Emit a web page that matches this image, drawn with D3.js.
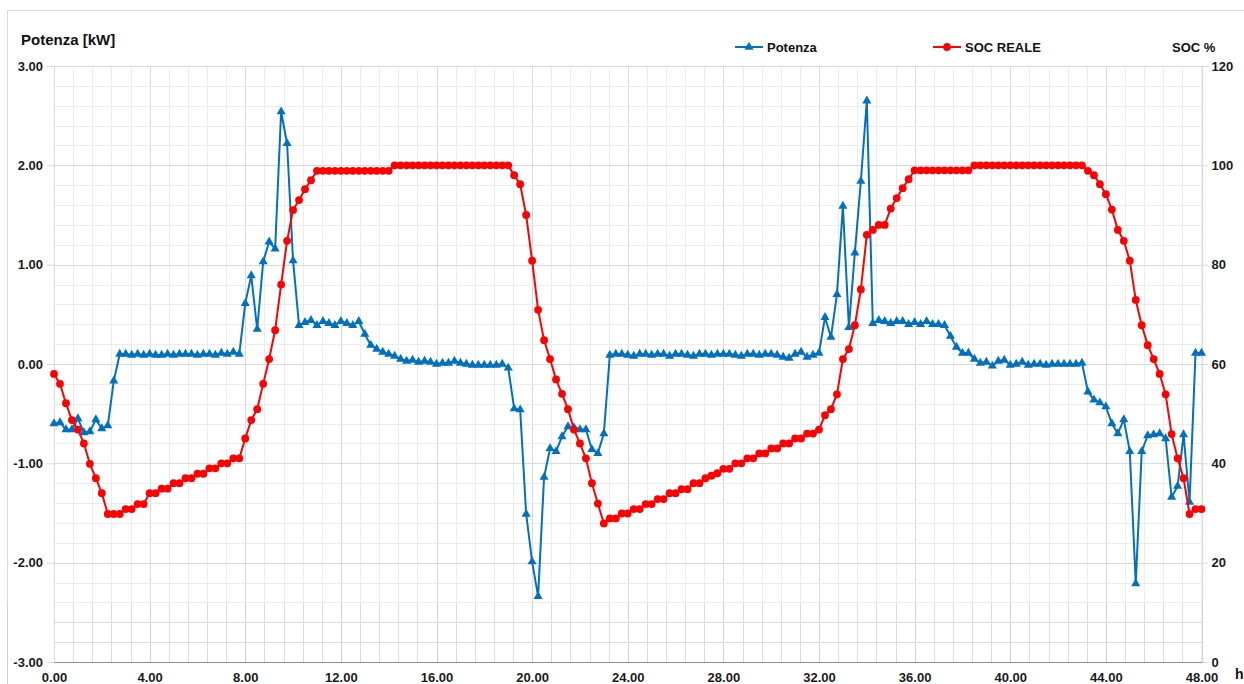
<!DOCTYPE html>
<html>
<head>
<meta charset="utf-8">
<script src="https://cdn.jsdelivr.net/npm/d3@7"></script>
<style>
  html, body { margin: 0; padding: 0; background: #ffffff; }
  svg { display: block; font-family: "Liberation Sans", Arial, sans-serif; }
</style>
</head>
<body>
<svg id="chart" width="1244" height="684"></svg>
<script>
// Sampling step of the measurements, in hours (0 … 48 h)
const STEP_H = 0.25;

// Battery power [kW], one value per sample
const potenza = [
  -0.60, -0.59, -0.66, -0.66, -0.55, -0.69, -0.68, -0.56, -0.65, -0.62,
  -0.17,  0.10,  0.10,  0.09,  0.10,  0.09,  0.10,  0.09,  0.09,  0.10,
   0.09,  0.10,  0.10,  0.10,  0.09,  0.10,  0.10,  0.09,  0.11,  0.10,
   0.12,  0.10,  0.61,  0.89,  0.35,  1.03,  1.23,  1.16,  2.54,  2.22,
   1.04,  0.39,  0.42,  0.44,  0.39,  0.43,  0.41,  0.39,  0.43,  0.41,
   0.39,  0.43,  0.30,  0.19,  0.15,  0.12,  0.10,  0.08,  0.05,  0.03,
   0.04,  0.02,  0.03,  0.02,  0.00,  0.01,  0.01,  0.03,  0.01,  0.00,
  -0.01, -0.01, -0.01, -0.01, -0.01,  0.00, -0.04, -0.45, -0.46, -1.51,
  -1.99, -2.34, -1.14, -0.85, -0.88, -0.73, -0.63, -0.64, -0.66, -0.66,
  -0.86, -0.90, -0.70,  0.09,  0.10,  0.10,  0.09,  0.08,  0.10,  0.10,
   0.09,  0.10,  0.10,  0.08,  0.10,  0.10,  0.09,  0.08,  0.10,  0.10,
   0.09,  0.10,  0.10,  0.10,  0.09,  0.08,  0.10,  0.10,  0.09,  0.10,
   0.10,  0.09,  0.07,  0.06,  0.10,  0.12,  0.07,  0.09,  0.11,  0.47,
   0.27,  0.70,  1.59,  0.37,  1.12,  1.84,  2.65,  0.41,  0.44,  0.43,
   0.41,  0.43,  0.43,  0.40,  0.42,  0.40,  0.43,  0.40,  0.40,  0.39,
   0.28,  0.17,  0.11,  0.11,  0.05,  0.01,  0.02, -0.02,  0.03,  0.04,
  -0.01,  0.00,  0.02, -0.01,  0.00,  0.00, -0.01,  0.00,  0.00,  0.00,
   0.00,  0.00,  0.01, -0.28, -0.36, -0.39, -0.43, -0.60, -0.70, -0.56,
  -0.88, -2.21, -0.88, -0.72, -0.71, -0.70, -0.75, -1.34, -1.23, -0.71,
  -1.39,  0.11,  0.11
];

// Real state of charge [%], one value per sample
const socReale = [
  58.0, 56.0, 52.1, 48.7, 46.8, 44.0, 39.9, 37.0, 34.0, 29.8,
  29.8, 29.8, 30.8, 30.8, 31.8, 31.8, 34.0, 34.0, 34.9, 34.9,
  36.0, 36.0, 37.0, 37.0, 37.9, 37.9, 39.0, 39.0, 40.0, 40.0,
  41.0, 41.0, 45.0, 48.7, 50.9, 56.0, 61.0, 66.8, 76.0, 84.8,
  91.0, 93.0, 95.2, 97.0, 98.9, 98.9, 98.9, 98.9, 98.9, 98.9,
  98.9, 98.9, 98.9, 98.9, 98.9, 98.9, 98.9, 100, 100, 100,
  100, 100, 100, 100, 100, 100, 100, 100, 100, 100,
  100, 100, 100, 100, 100, 100, 100, 98.0, 96.2, 90.0,
  80.8, 70.9, 64.8, 61.0, 56.9, 54.0, 50.9, 46.8, 44.0, 41.0,
  36.0, 31.9, 27.9, 28.9, 28.9, 29.9, 29.9, 30.8, 30.8, 31.8,
  31.8, 32.8, 32.8, 34.0, 34.0, 34.8, 34.8, 36.0, 36.0, 37.0,
  37.5, 38.0, 38.9, 38.9, 40.0, 40.0, 41.0, 41.0, 42.0, 42.0,
  43.0, 43.0, 44.0, 44.0, 45.0, 45.0, 46.0, 46.0, 46.8, 49.7,
  50.9, 53.9, 61.0, 63.0, 67.8, 75.0, 86.0, 87.0, 88.0, 88.0,
  91.3, 93.4, 95.4, 97.2, 99.0, 99.0, 99.0, 99.0, 99.0, 99.0,
  99.0, 99.0, 99.0, 99.0, 100, 100, 100, 100, 100, 100,
  100, 100, 100, 100, 100, 100, 100, 100, 100, 100,
  100, 100, 100, 98.9, 98.0, 96.2, 94.2, 91.1, 87.0, 84.8,
  80.8, 72.9, 67.8, 63.8, 61.0, 58.0, 53.9, 45.9, 41.0, 37.0,
  29.8, 30.8, 30.8
];

// Axis ticks
const xTicks = [0, 4, 8, 12, 16, 20, 24, 28, 32, 36, 40, 44, 48];
const yLeftTicks = [-3, -2, -1, 0, 1, 2, 3];
const yRightTicks = [0, 20, 40, 60, 80, 100, 120];

// Series names
const seriesNames = ["Potenza", "SOC REALE"];

const COL_P = "#0070C0";
const COL_SOC = "#FF0000";

const svg = d3.select("#chart");
const plot = { left: 54, right: 1201.5, top: 66, bottom: 662 };

const x = d3.scaleLinear().domain([0, 48]).range([plot.left, plot.right]);
const yL = d3.scaleLinear().domain([-3, 3]).range([plot.bottom, plot.top]);
const yR = d3.scaleLinear().domain([0, 120]).range([plot.bottom, plot.top]);

const hours = potenza.map((_, i) => i * STEP_H);
const dataP = hours.map((h, i) => ({ h, v: potenza[i] }));
const dataS = hours.map((h, i) => ({ h, v: socReale[i] }));

// two-decimal labels with a plain hyphen for negatives
const fmt2 = d => d.toFixed(2);

// outer chart frame
svg.append("rect")
  .attr("x", 7.5).attr("y", 10.5)
  .attr("width", 1300).attr("height", 700)
  .attr("fill", "none").attr("stroke", "#d9d9d9").attr("stroke-width", 1);

// gridlines: minor every 0.8 h / 0.2 kW, major every 4 h / 1 kW
const gx = d3.range(0, 61).map(k => k * 0.8);
const gy = d3.range(0, 31).map(k => -3 + k * 0.2);

function drawGrid(g, minorCol, majorCol) {
  g.selectAll(".vx").data(gx).join("line")
    .attr("x1", d => Math.round(x(d)) + 0.5).attr("x2", d => Math.round(x(d)) + 0.5)
    .attr("y1", plot.top).attr("y2", plot.bottom)
    .attr("stroke", (d, i) => i % 5 === 0 ? majorCol : minorCol)
    .attr("stroke-width", 1);
  g.selectAll(".hy").data(gy).join("line")
    .attr("y1", d => Math.round(yL(d)) + 0.5).attr("y2", d => Math.round(yL(d)) + 0.5)
    .attr("x1", plot.left).attr("x2", plot.right)
    .attr("stroke", (d, i) => i % 5 === 0 ? majorCol : minorCol)
    .attr("stroke-width", 1);
}
drawGrid(svg.append("g"), "#ececec", "#d9d9d9");

// lower band of the grid drawn a touch stronger
svg.append("clipPath").attr("id", "band")
  .append("rect").attr("x", 0).attr("y", 603).attr("width", 1244).attr("height", 59);
drawGrid(svg.append("g").attr("clip-path", "url(#band)"), "#dcdcdc", "#d0d0d0");
svg.append("line").attr("x1", 7.5).attr("x2", 7.5).attr("y1", 603).attr("y2", 684)
  .attr("stroke", "#cfcfcf");

// axes
const fontW = "bold";
const axL = d3.axisLeft(yL).tickValues(yLeftTicks).tickFormat(fmt2)
  .tickSize(7).tickPadding(4);
const gL = svg.append("g").attr("transform", `translate(${plot.left},0)`).call(axL);
gL.select(".domain").attr("stroke", "#d9d9d9");
gL.selectAll(".tick line").attr("stroke", "#d9d9d9");
gL.selectAll("text").attr("font-size", 13).attr("font-weight", fontW).attr("fill", "#1a1a1a")
  .attr("font-family", "Liberation Sans, Arial, sans-serif");

const axR = d3.axisRight(yR).tickValues(yRightTicks).tickFormat(d3.format("d"))
  .tickSize(7).tickPadding(3);
const gR = svg.append("g").attr("transform", `translate(${plot.right},0)`).call(axR);
gR.select(".domain").attr("stroke", "#d9d9d9");
gR.selectAll(".tick line").attr("stroke", "#d9d9d9");
gR.selectAll("text").attr("font-size", 13).attr("font-weight", fontW).attr("fill", "#1a1a1a")
  .attr("font-family", "Liberation Sans, Arial, sans-serif");

const axB = d3.axisBottom(x).tickValues(xTicks).tickFormat(fmt2)
  .tickSize(0).tickPadding(11);
const gB = svg.append("g").attr("transform", `translate(0,${plot.bottom})`).call(axB);
gB.select(".domain").attr("stroke", "#8c8c8c");
gB.selectAll("text").attr("font-size", 13).attr("font-weight", fontW).attr("fill", "#1a1a1a")
  .attr("font-family", "Liberation Sans, Arial, sans-serif");

// axis titles
svg.append("text").attr("x", 21).attr("y", 45)
  .attr("font-size", 15).attr("font-weight", "bold").attr("fill", "#111")
  .text("Potenza [kW]");
svg.append("text").attr("x", 1172).attr("y", 52)
  .attr("font-size", 13).attr("font-weight", "bold").attr("fill", "#111")
  .text("SOC %");
svg.append("text").attr("x", 1235).attr("y", 679)
  .attr("font-size", 14).attr("font-weight", "bold").attr("fill", "#111")
  .text("h");

// series
const triangle = d3.symbol().type(d3.symbolTriangle).size(36);

const lineP = d3.line().x(d => x(d.h)).y(d => yL(d.v));
svg.append("path").datum(dataP)
  .attr("d", lineP).attr("fill", "none")
  .attr("stroke", COL_P).attr("stroke-width", 2).attr("stroke-linejoin", "round");
svg.append("g").selectAll("path").data(dataP).join("path")
  .attr("d", triangle)
  .attr("transform", d => `translate(${x(d.h)},${yL(d.v)})`)
  .attr("fill", COL_P);

const lineS = d3.line().x(d => x(d.h)).y(d => yR(d.v));
svg.append("path").datum(dataS)
  .attr("d", lineS).attr("fill", "none")
  .attr("stroke", COL_SOC).attr("stroke-width", 2).attr("stroke-linejoin", "round");
svg.append("g").selectAll("circle").data(dataS).join("circle")
  .attr("cx", d => x(d.h)).attr("cy", d => yR(d.v)).attr("r", 3.9)
  .attr("fill", COL_SOC);

// legend
const legend = [
  { name: seriesNames[0], color: COL_P, x0: 735, marker: "tri" },
  { name: seriesNames[1], color: COL_SOC, x0: 933, marker: "circ" }
];
const lg = svg.append("g");
legend.forEach(l => {
  const ly = 47;
  lg.append("line").attr("x1", l.x0).attr("x2", l.x0 + 28)
    .attr("y1", ly).attr("y2", ly).attr("stroke", l.color).attr("stroke-width", 2);
  if (l.marker === "tri") {
    lg.append("path").attr("d", triangle).attr("transform", `translate(${l.x0 + 14},${ly})`)
      .attr("fill", l.color);
  } else {
    lg.append("circle").attr("cx", l.x0 + 14).attr("cy", ly).attr("r", 3.9).attr("fill", l.color);
  }
  lg.append("text").attr("x", l.x0 + 32).attr("y", ly + 5)
    .attr("font-size", 13).attr("font-weight", "bold").attr("fill", "#111")
    .text(l.name);
});
</script>
</body>
</html>
